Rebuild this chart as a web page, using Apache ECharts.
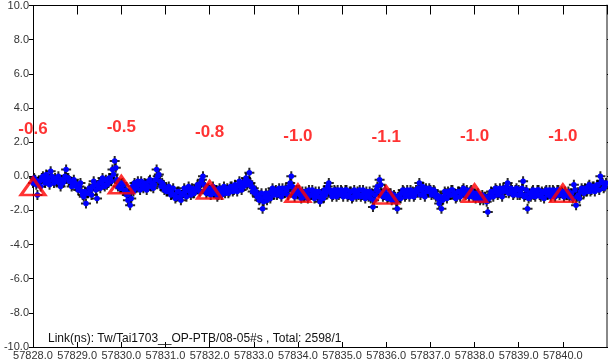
<!DOCTYPE html>
<html>
<head>
<meta charset="utf-8">
<script src="https://cdn.jsdelivr.net/npm/echarts@6/dist/echarts.min.js"></script>
<style>
  html, body { margin: 0; padding: 0; background: #fff; }
  #chart { width: 608px; height: 361px; }
</style>
</head>
<body>
<div id="chart"></div>
<script>
// link residuals, one value every 0.05 day starting at MJD 57828.0
var startMjd = 57828.0;
var stepDay = 0.05;
var linkValues = [
  // 57828
  -0.4,-0.2,-1.1,-0.3,-0.1,-0.2,0.1,-0.3,0.3,-0.2,-0.1,-0.3,-0.4,-0.2,-0.3,0.4,-0.1,-0.3,-0.5,-0.4,
  // 57829
  -0.5,-0.6,-0.9,-1.2,-1.6,-1.0,-0.8,-0.6,-0.5,-1.3,-0.4,-0.3,-0.5,-0.2,-0.4,-0.1,0.4,0.9,-0.2,-0.4,
  // 57830
  -0.7,-0.5,-0.8,-1.4,-1.7,-0.6,-0.4,-0.6,-0.5,-0.3,-0.7,-0.5,-0.6,-0.2,-0.4,-0.5,0.4,0.1,-0.6,-0.5,
  // 57831
  -0.7,-0.9,-0.8,-1.0,-1.1,-1.2,-0.9,-1.4,-1.0,-0.9,-0.8,-0.9,-0.7,-1.0,-0.7,-0.6,-0.4,0.0,-0.8,-0.9,
  // 57832
  -0.8,-0.9,-1.0,-0.8,-1.1,-0.9,-0.8,-1.0,-0.7,-0.9,-0.6,-0.8,-0.7,-0.5,-0.6,-0.4,-0.3,-0.5,0.2,-0.6,
  // 57833
  -0.7,-0.9,-1.1,-1.3,-1.9,-1.2,-1.4,-1.0,-0.9,-1.1,-0.8,-1.0,-0.9,-0.7,-1.0,-0.8,-0.6,0.0,-0.9,-1.0,
  // 57834
  -1.0,-1.1,-0.9,-1.2,-1.0,-0.8,-1.1,-1.0,-0.9,-1.2,-1.5,-1.0,-0.8,-0.9,-0.4,-1.0,-1.1,-0.9,-0.8,-1.0,
  // 57835
  -0.9,-1.0,-0.8,-1.1,-0.9,-1.2,-1.0,-0.9,-0.8,-1.1,-1.0,-0.9,-1.2,-1.3,-1.8,-1.1,-0.6,-0.2,-1.0,-1.1,
  // 57836
  -1.1,-1.2,-1.0,-1.3,-1.2,-1.9,-1.1,-1.0,-0.9,-1.1,-1.0,-0.8,-0.9,-1.1,-0.9,-0.4,-0.8,-1.0,-0.7,-0.9,
  // 57837
  -0.8,-1.0,-0.9,-1.1,-1.6,-1.9,-1.2,-1.0,-0.9,-1.1,-0.8,-1.0,-1.2,-0.9,-1.0,-0.7,-1.1,-1.0,-0.9,-1.0,
  // 57838
  -1.0,-1.1,-1.2,-1.3,-1.4,-1.2,-2.1,-1.1,-1.0,-0.9,-0.8,-1.0,-0.9,-0.7,-0.8,-0.4,-0.9,-0.8,-1.0,-0.7,
  // 57839
  -0.8,-1.0,-0.3,-1.1,-1.9,-1.0,-0.9,-1.1,-1.0,-0.8,-1.2,-1.0,-0.9,-1.1,-0.8,-1.0,-0.9,-1.0,-0.8,-1.0,
  // 57840
  -1.0,-0.9,-1.1,-1.2,-1.0,-0.5,-1.7,-1.1,-0.9,-0.8,-0.7,-0.9,-0.5,-0.8,-0.6,-0.7,-0.5,0.0,-0.4,-0.6
];
// the samples in between (MJD 57828.025, 57828.075, ...)
var linkValuesMid = [
  // 57828
  -0.1,-0.5,-0.3,-0.6,0.0,-0.4,-0.1,-0.5,0.0,-0.4,-0.3,0.0,-0.6,-0.4,0.0,-0.1,-0.3,-0.6,-0.2,-0.6,
  // 57829
  -0.8,-0.4,-1.1,-0.9,-1.0,-0.7,-1.1,-0.3,-0.8,-0.6,-0.7,-0.1,-0.6,-0.5,-0.1,-0.3,0.1,0.5,-0.6,-0.7,
  // 57830
  -0.4,-0.9,-1.1,-1.0,-1.3,-0.9,-0.7,-0.3,-0.8,-0.6,-0.4,-0.8,-0.3,-0.6,-0.7,-0.2,0.0,-0.3,-0.4,-0.8,
  // 57831
  -0.9,-0.6,-1.1,-0.7,-1.3,-0.9,-1.2,-1.1,-0.7,-1.2,-0.6,-1.1,-1.0,-0.8,-0.5,-0.9,-0.2,-0.5,-1.0,-0.7,
  // 57832
  -1.1,-0.6,-0.8,-1.2,-0.7,-1.1,-0.6,-0.8,-1.0,-0.6,-0.9,-0.5,-0.9,-0.3,-0.8,-0.6,-0.1,-0.3,-0.4,-0.9,
  // 57833
  -1.0,-1.2,-1.4,-1.0,-1.5,-1.0,-1.2,-1.3,-0.7,-0.9,-1.1,-0.7,-1.2,-1.0,-0.7,-1.1,-0.4,-0.6,-1.2,-0.8,
  // 57834
  -0.8,-1.3,-1.2,-0.9,-1.3,-1.1,-0.8,-1.3,-1.1,-0.9,-1.2,-1.3,-1.1,-0.6,-0.8,-1.2,-0.8,-1.2,-1.1,-0.8,
  // 57835
  -1.2,-0.8,-1.2,-0.9,-1.3,-0.8,-1.2,-1.1,-1.2,-0.8,-1.3,-1.1,-0.9,-1.0,-1.4,-0.8,-0.9,-0.5,-1.2,-0.8,
  // 57836
  -1.3,-1.0,-1.4,-1.1,-1.5,-1.2,-1.3,-0.8,-1.2,-0.8,-1.2,-1.0,-1.2,-0.8,-0.7,-1.1,-0.6,-1.2,-0.9,-0.7,
  // 57837
  -1.1,-0.8,-1.2,-1.3,-1.2,-1.4,-0.9,-1.3,-1.1,-0.8,-1.1,-1.3,-0.9,-1.2,-0.8,-1.0,-0.8,-1.2,-0.8,-1.2,
  // 57838
  -1.3,-1.0,-1.4,-1.1,-1.2,-1.5,-1.3,-0.9,-1.2,-0.7,-1.1,-0.7,-1.2,-0.9,-0.6,-1.0,-0.7,-1.1,-0.8,-1.1,
  // 57839
  -1.1,-0.7,-1.2,-0.8,-1.3,-1.2,-0.8,-1.2,-0.8,-1.1,-0.9,-1.3,-0.8,-1.0,-1.2,-0.8,-1.2,-0.8,-1.1,-0.9,
  // 57840
  -1.2,-1.1,-0.9,-1.0,-1.3,-0.8,-1.2,-1.3,-0.7,-1.0,-0.9,-0.6,-0.9,-0.6,-0.9,-0.5,-0.8,-0.3,-0.7,-0.4
];

// two-day means (red triangles)
var meanMjd = [57828, 57830, 57832, 57834, 57836, 57838, 57840];
var meanValues = [-0.6, -0.5, -0.8, -1.0, -1.1, -1.0, -1.0];

var linkText = 'Link(ns): Tw/Tai1703__OP-PTB/08-05#s , Total: 2598/1';

var linkData = [];
for (var i = 0; i < linkValues.length; i++) {
    linkData.push([startMjd + i * stepDay, linkValues[i]]);
    linkData.push([startMjd + (i + 0.5) * stepDay, linkValuesMid[i]]);
}
var meanData = [];
for (var j = 0; j < meanMjd.length; j++) {
    meanData.push([meanMjd[j], meanValues[j]]);
}

var plusPath = 'path://M4,0H6V4H10V6H6V10H4V6H0V4H4Z';
var font = 'Liberation Sans, Arial, sans-serif';

var myChart = echarts.init(document.getElementById('chart'));
var option = {
    animation: false,
    backgroundColor: '#fff',
    grid: { left: 33, right: 1, top: 4, bottom: 11 },
    xAxis: [
        {
            type: 'value',
            min: 57828,
            max: 57841,
            interval: 1,
            position: 'bottom',
            axisLine: { show: true, onZero: false, lineStyle: { color: '#000', width: 1 } },
            axisTick: { show: true, inside: true, length: 5, lineStyle: { color: '#000' } },
            axisLabel: {
                show: true, margin: 3, fontSize: 11, color: '#333', fontFamily: font,
                showMaxLabel: false,
                formatter: function (v) { return v.toFixed(1); }
            },
            splitLine: { show: false }
        },
        {
            type: 'value',
            min: 57828,
            max: 57841,
            interval: 1,
            position: 'top',
            axisLine: { show: true, onZero: false, lineStyle: { color: '#000', width: 1 } },
            axisTick: { show: true, inside: true, length: 9, lineStyle: { color: '#000' } },
            axisLabel: { show: false },
            splitLine: { show: false }
        }
    ],
    yAxis: [
        {
            type: 'value',
            min: -10,
            max: 10,
            interval: 2,
            position: 'left',
            axisLine: { show: true, onZero: false, lineStyle: { color: '#000', width: 1 } },
            axisTick: { show: true, inside: false, length: 4, lineStyle: { color: '#000' } },
            axisLabel: {
                margin: 4, fontSize: 11, color: '#333', fontFamily: font,
                formatter: function (v) { return v.toFixed(1); }
            },
            splitLine: { show: false }
        },
        {
            type: 'value',
            min: -10,
            max: 10,
            interval: 2,
            position: 'right',
            axisLine: { show: true, onZero: false, lineStyle: { color: '#888', width: 2 } },
            axisTick: { show: true, inside: false, length: 3, lineStyle: { color: '#000' } },
            axisLabel: { show: false },
            splitLine: { show: false }
        }
    ],
    graphic: [
        {
            type: 'text',
            left: 48,
            top: 333,
            z: 100,
            style: { text: linkText, fill: '#111', font: '12px ' + font }
        }
    ],
    series: [
        {
            name: 'plus',
            type: 'scatter',
            data: linkData,
            symbol: plusPath,
            symbolSize: 10,
            itemStyle: { color: '#000', opacity: 0.85 },
            z: 2
        },
        {
            name: 'link',
            type: 'scatter',
            data: linkData,
            symbol: 'circle',
            symbolSize: 5.5,
            itemStyle: { color: '#0000ff', opacity: 1 },
            z: 3
        },
        {
            name: 'mean',
            type: 'scatter',
            data: meanData,
            symbol: 'triangle',
            symbolSize: [24, 17],
            itemStyle: { color: 'rgba(0,0,0,0)', borderColor: '#ff0000', borderWidth: 3 },
            label: {
                show: true,
                position: 'top',
                distance: 39,
                color: '#ff0000',
                fontSize: 17,
                fontWeight: 'bold',
                fontFamily: font,
                formatter: function (p) { return p.value[1].toFixed(1); }
            },
            z: 4
        }
    ]
};
myChart.setOption(option);
</script>
</body>
</html>
